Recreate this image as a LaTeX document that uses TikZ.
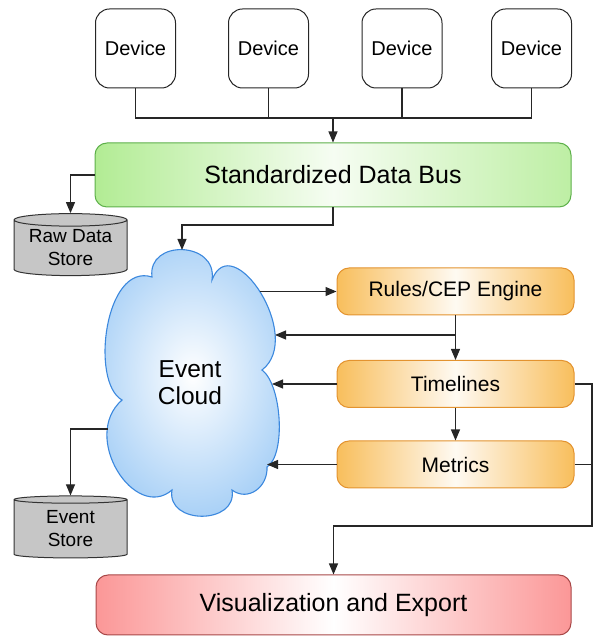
\documentclass[tikz,border=0pt]{standalone}
\usepackage{fontspec}
\setmainfont{Liberation Sans}
\usetikzlibrary{arrows.meta,shapes.geometric}

\definecolor{busgreen}{HTML}{B2EC94}
\definecolor{busedge}{HTML}{5DB04A}
\definecolor{engorange}{HTML}{F8BE5C}
\definecolor{engedge}{HTML}{E3932F}
\definecolor{vispink}{HTML}{FB9797}
\definecolor{visedge}{HTML}{A84848}
\definecolor{cloudblue}{HTML}{A4CEF6}
\definecolor{cloudedge}{HTML}{3B88DE}
\definecolor{storegray}{HTML}{C6C6C6}

\begin{document}
\begin{tikzpicture}[x=1pt,y=1pt,
    device/.style={draw=black!85, fill=white, line width=1pt, rounded corners=14pt,
      minimum width=80pt, minimum height=79pt, font=\fontsize{20}{24}\selectfont},
    busbox/.style={draw=busedge, line width=1pt, rounded corners=12pt,
      left color=busgreen, right color=busgreen!85, middle color=busgreen!12,
      minimum width=476pt, minimum height=64pt, font=\fontsize{25}{30}\selectfont},
    engine/.style={draw=engedge, line width=1pt, rounded corners=12pt,
      left color=engorange, right color=engorange, middle color=engorange!8,
      minimum width=237pt, minimum height=47pt, font=\fontsize{21}{25}\selectfont},
    exportbox/.style={draw=visedge, line width=1pt, rounded corners=12pt,
      left color=vispink, right color=vispink, middle color=white,
      minimum width=475pt, minimum height=60pt, font=\fontsize{25}{30}\selectfont},
    store/.style={cylinder, shape border rotate=90, aspect=0.15, draw=black!80,
      fill=storegray, line width=1pt, minimum width=113pt, minimum height=62pt,
      inner sep=0pt, align=center, font=\fontsize{19}{23}\selectfont},
    conn/.style={draw=black!85, line width=1.1pt},
    arrow/.style={conn, -{Triangle[length=11pt,width=9pt]}},
  ]
    \useasboundingbox (0,0) rectangle (595,637);

    %devices
    \node[device] (dev1) at (135.5,588.5) {Device};
    \node[device] (dev2) at (268.5,588.5) {Device};
    \node[device] (dev3) at (402,588.5) {Device};
    \node[device] (dev4) at (531.5,588.5) {Device};

    %data bus
    \node[busbox] (bus) at (333,462) {Standardized Data Bus};
    \coordinate (busin) at (333,519);

    \draw[conn] (dev1.south) -- (dev1.south |- busin) -- (dev4.south |- busin) -- (dev4.south);
    \draw[conn] (dev2.south) -- (dev2.south |- busin);
    \draw[conn] (dev3.south) -- (dev3.south |- busin);
    \draw[arrow] (busin) -- (bus.north);

    %stores
    \node[store] (raw) at (70.5,389) {Raw Data\\Store};
    \node[store] (evst) at (70.5,108) {Event\\Store};

    %event cloud
    \path[draw=cloudedge, line width=1.1pt, inner color=white, outer color=cloudblue]
      (152,360) .. controls (147,398) and (218,396) .. (212,357)
      .. controls (232,410) and (305,300) .. (262,267)
      .. controls (282,252) and (286,182) .. (267,170)
      .. controls (268,150) and (248,135) .. (232,147)
      .. controls (238,112) and (166,112) .. (172,147)
      .. controls (135,115) and (80,200) .. (122,237)
      .. controls (90,255) and (105,375) .. (152,360) -- cycle;
    \node[align=center, font=\fontsize{24.5}{27}\selectfont] (cloud) at (190,254) {Event\\Cloud};

    \coordinate (cbend) at (182,412);
    \coordinate (ctop) at (182,387);
    \coordinate (cr1) at (260,345.5);
    \coordinate (cr2) at (275,302);
    \coordinate (cr3) at (272,253);
    \coordinate (cr4) at (267,172.5);
    \coordinate (cl5) at (108,208);

    %engines
    \node[engine] (rules) at (455.5,345.5) {Rules/CEP Engine};
    \node[engine] (time) at (455.5,253) {Timelines};
    \node[engine] (metr) at (455.5,172.5) {Metrics};

    %export
    \node[exportbox] (vis) at (333.5,32) {Visualization and Export};
    \coordinate (rail) at (592,111);

    \draw[arrow] (bus.west) -| (raw.north);
    \draw[arrow] (bus.south) |- (cbend) -- (ctop);
    \draw[arrow] (cl5) -| (evst.north);

    \draw[arrow] (cr1) -- (rules.west);
    \draw[arrow] (rules.south) -- (time.north);
    \draw[arrow] (rules.south |- cr2) -- (cr2);
    \draw[arrow] (time.west) -- (cr3);
    \draw[arrow] (time.south) -- (metr.north);
    \draw[arrow] (metr.west) -- (cr4);

    \draw[arrow] (time.east) -| (rail) -| (vis.north);
    \draw[conn] (metr.east) -- (metr.east -| rail);

\end{tikzpicture}
\end{document}
